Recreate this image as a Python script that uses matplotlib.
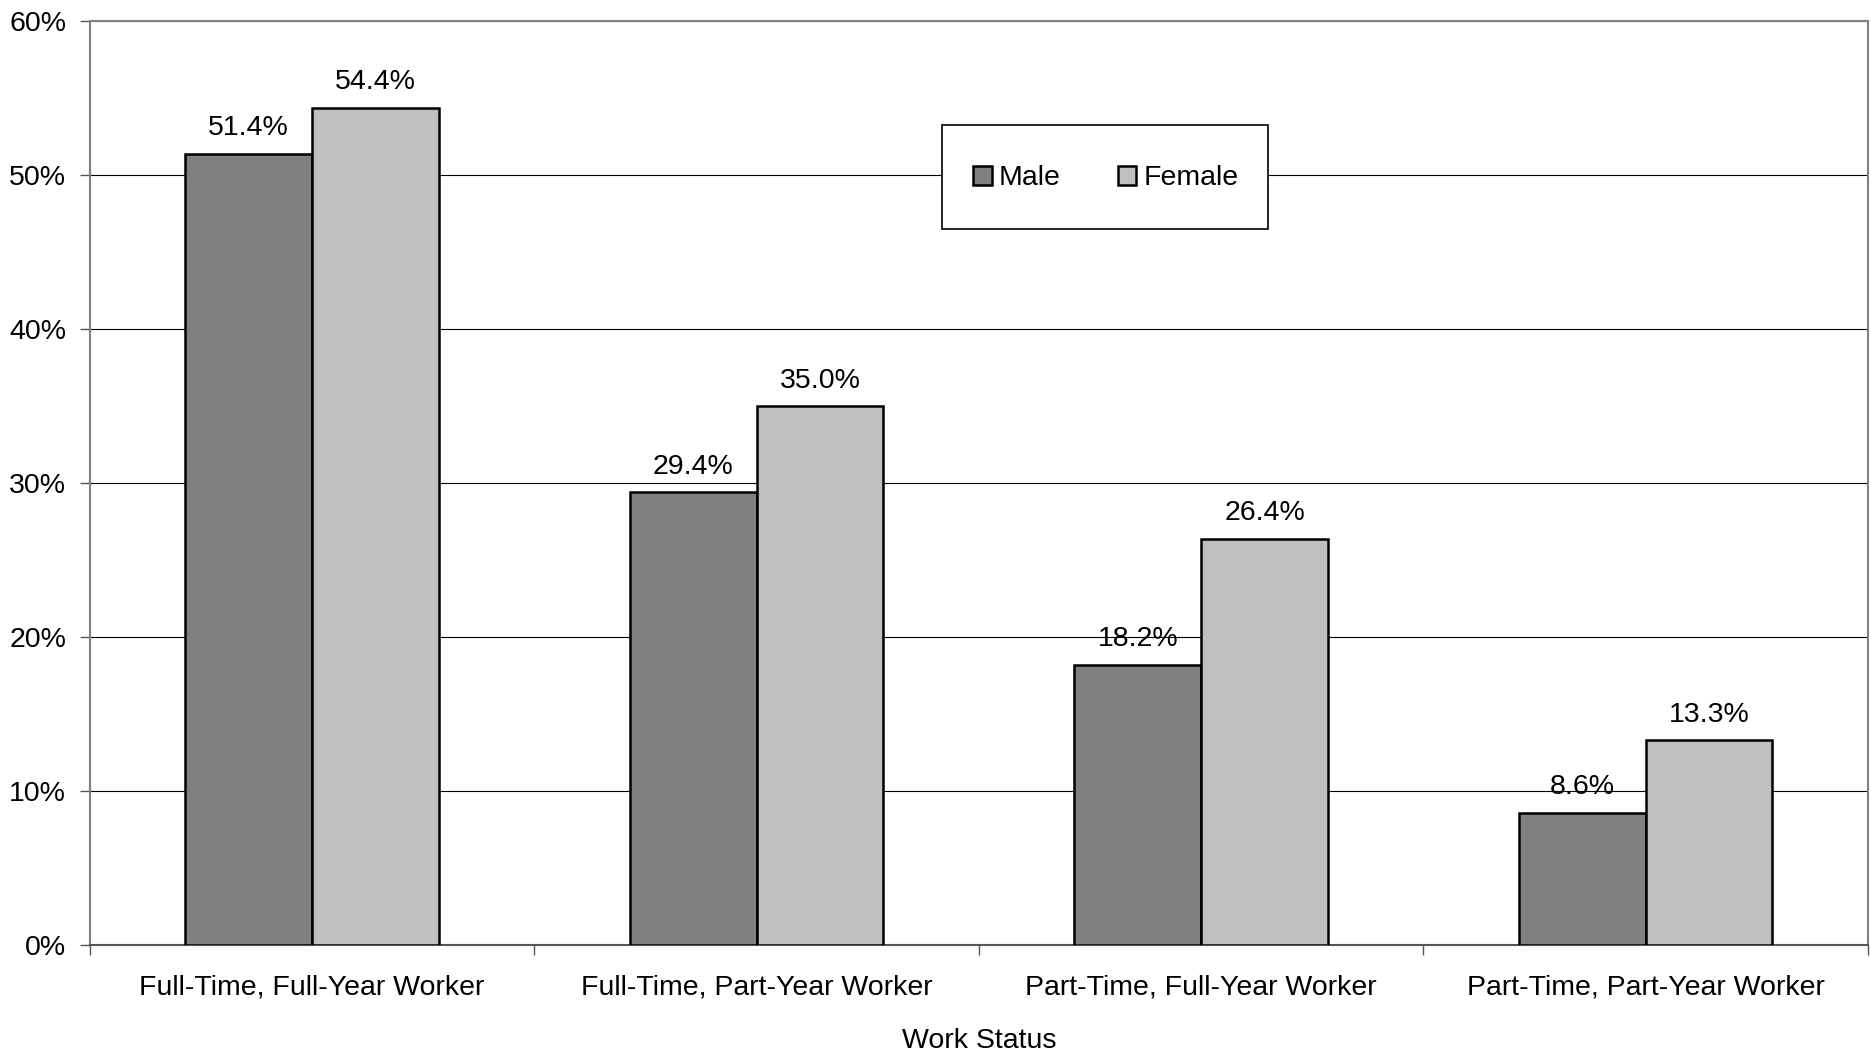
import numpy as np
import matplotlib
matplotlib.use('Agg')
import matplotlib.pyplot as plt
from matplotlib.patches import Rectangle
from matplotlib.ticker import FuncFormatter, FixedLocator

plt.rcParams['font.family'] = ['Liberation Sans', 'DejaVu Sans']

# data
categories = ['Full-Time, Full-Year Worker', 'Full-Time, Part-Year Worker',
              'Part-Time, Full-Year Worker', 'Part-Time, Part-Year Worker']
male = [51.4, 29.4, 18.2, 8.6]
female = [54.4, 35.0, 26.4, 13.3]

fs = 20.5

fig = plt.figure(figsize=(18.71, 10.53), dpi=100)
ax = fig.add_axes([0.048, 0.1026, 0.9504, 0.877])

x = np.arange(len(categories))
w = 0.285
b1 = ax.bar(x - w / 2, male, w, color='#808080', edgecolor='black', linewidth=1.8, label='Male', zorder=3)
b2 = ax.bar(x + w / 2, female, w, color='#C0C0C0', edgecolor='black', linewidth=1.8, label='Female', zorder=3)

for bars, vals in [(b1, male), (b2, female)]:
    for r, v in zip(bars, vals):
        ax.annotate('%.1f%%' % v, (r.get_x() + r.get_width() / 2, v),
                    xytext=(0, 9), textcoords='offset points',
                    ha='center', va='bottom', fontsize=fs)

ax.set_xlim(-0.5, 3.5)
ax.set_ylim(0, 60)
ax.set_yticks(np.arange(0, 61, 10))
ax.yaxis.set_major_formatter(FuncFormatter(lambda v, p: '%d%%' % v))
ax.yaxis.grid(True, color='black', linewidth=0.8, zorder=0)
ax.set_axisbelow(True)

ax.set_xticks(x)
ax.set_xticklabels(categories)
ax.xaxis.set_minor_locator(FixedLocator(np.arange(-0.5, 3.6, 1)))
ax.tick_params(axis='x', which='major', length=0, pad=21, labelsize=fs)
ax.tick_params(axis='x', which='minor', length=7, width=1, color='#555555')
ax.tick_params(axis='y', length=7, width=1, color='#555555', pad=10, labelsize=fs)

for s in ['top', 'right', 'left']:
    ax.spines[s].set_color('#808080')
    ax.spines[s].set_linewidth(1.5)
ax.spines['bottom'].set_color('#555555')
ax.spines['bottom'].set_linewidth(1.5)

ax.set_xlabel('Work Status', fontsize=fs, labelpad=20)

# legend box drawn separately so it can be taller than the padding allows
ax.add_patch(Rectangle((0.479, 0.775), 0.1835, 0.113, transform=ax.transAxes,
                       facecolor='white', edgecolor='black', linewidth=1.2, zorder=4))
leg = ax.legend(loc='center', bbox_to_anchor=(0.5714, 0.8305), ncol=2, fontsize=fs,
                frameon=False, handlelength=0.65, handleheight=0.65, handletextpad=0.25,
                columnspacing=2.0, borderaxespad=0, borderpad=0)
leg.set_zorder(5)

fig.savefig('out.png', dpi=100)
